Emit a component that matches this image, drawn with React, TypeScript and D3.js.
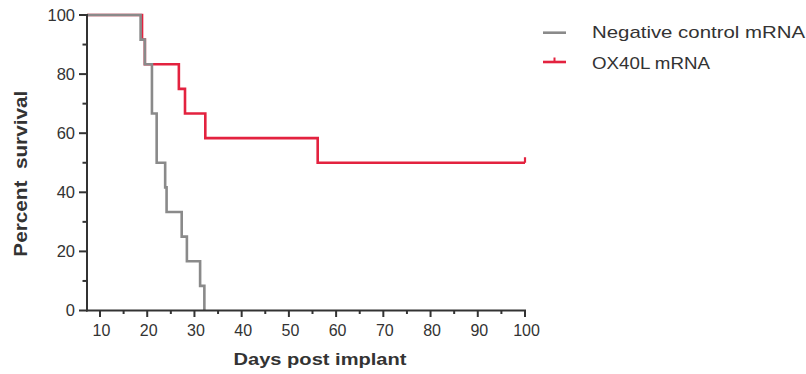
import React from "react";
import * as d3 from "d3";

const W = 806;
const H = 374;

// Kaplan–Meier data (day, percent survival)
const controlDays = [18.6, 19.5, 21.0, 22.0, 23.8, 24.1, 27.3, 28.4, 31.2, 32.1];
const controlSurv = [91.67, 83.33, 66.67, 50, 41.67, 33.33, 25, 16.67, 8.33, 0];
const ox40lDays = [18.9, 19.5, 26.7, 28.0, 32.3, 56.1];
const ox40lSurv = [91.67, 83.33, 75, 66.67, 58.33, 50];
const ox40lEnd = 100;

const xMajorTicks = [10, 20, 30, 40, 50, 60, 70, 80, 90, 100];
const xMinorTicks = [15, 25, 35, 45, 55, 65, 75, 85, 95];
const yMajorTicks = [0, 20, 40, 60, 80, 100];
const yMinorTicks = [10, 30, 50, 70, 90];

const seriesNames = ["Negative control mRNA", "OX40L mRNA"];
const GREY = "#8a8a8a";
const RED = "#e3223f";
const AXIS = "#333333";
const FONT = "'Liberation Sans', Arial, Helvetica, sans-serif";

export default function App() {
  const x = d3.scaleLinear().domain([10, 100]).range([100, 525]);
  const y = d3.scaleLinear().domain([0, 100]).range([310.5, 15]);
  const xStart = x.invert(87);

  const line = d3
    .line<[number, number]>()
    .x((d) => x(d[0]))
    .y((d) => y(d[1]))
    .curve(d3.curveStepAfter);

  const controlPts: [number, number][] = [[xStart, 100], ...controlDays.map((t, i) => [t, controlSurv[i]] as [number, number])];
  const oxPts: [number, number][] = [
    [xStart, 100],
    ...ox40lDays.map((t, i) => [t, ox40lSurv[i]] as [number, number]),
    [ox40lEnd, ox40lSurv[ox40lSurv.length - 1]],
  ];
  const lastOx = ox40lSurv[ox40lSurv.length - 1];

  const x0 = x(xStart);
  const yBase = y(0);

  return (
    <svg width={W} height={H} style={{ position: "absolute", left: 0, top: 0, background: "#fff" }}>
      <rect width={W} height={H} fill="#fff" />
      {/* curves */}
      <path d={line(oxPts) || ""} fill="none" stroke={RED} strokeWidth={2.6} />
      <line x1={x(ox40lEnd)} x2={x(ox40lEnd)} y1={y(lastOx)} y2={y(lastOx) - 5.5} stroke={RED} strokeWidth={2.2} />
      <path d={line(controlPts) || ""} fill="none" stroke={GREY} strokeWidth={2.6} />

      {/* y axis */}
      <line x1={x0} x2={x0} y1={y(100) - 1} y2={yBase + 1} stroke={AXIS} strokeWidth={2} />
      {yMajorTicks.map((t) => (
        <g key={"ym" + t}>
          <line x1={x0 - 8} x2={x0} y1={y(t)} y2={y(t)} stroke={AXIS} strokeWidth={2} />
          <text x={75} y={y(t)} dy="0.36em" textAnchor="end" fontSize={16.5} fill={AXIS} fontFamily={FONT}>
            {t}
          </text>
        </g>
      ))}
      {yMinorTicks.map((t) => (
        <line key={"yn" + t} x1={x0 - 4.5} x2={x0} y1={y(t)} y2={y(t)} stroke={AXIS} strokeWidth={2} />
      ))}

      {/* x axis */}
      <line x1={x0 - 1} x2={x(100) + 1} y1={yBase} y2={yBase} stroke={AXIS} strokeWidth={2} />
      {xMajorTicks.map((t) => (
        <g key={"xm" + t}>
          <line x1={x(t)} x2={x(t)} y1={yBase} y2={yBase + 6.5} stroke={AXIS} strokeWidth={2} />
          <text x={x(t) + 1.5} y={335.5} textAnchor="middle" fontSize={16} fill={AXIS} fontFamily={FONT}>
            {t}
          </text>
        </g>
      ))}
      {xMinorTicks.map((t) => (
        <line key={"xn" + t} x1={x(t)} x2={x(t)} y1={yBase} y2={yBase + 3.5} stroke={AXIS} strokeWidth={2} />
      ))}

      {/* axis titles */}
      <text
        x={320}
        y={364.5}
        textAnchor="middle"
        fontSize={16.5}
        fontWeight="bold"
        fill={AXIS}
        fontFamily={FONT}
        textLength={173}
        lengthAdjust="spacingAndGlyphs"
      >
        Days post implant
      </text>
      <text
        transform={`translate(26.5,173.7) rotate(-90)`}
        textAnchor="middle"
        fontSize={17.5}
        fontWeight="bold"
        fill={AXIS}
        fontFamily={FONT}
        textLength={166}
        lengthAdjust="spacingAndGlyphs"
      >
        {"Percent\u00a0 survival"}
      </text>

      {/* legend */}
      <line x1={543} x2={566} y1={32.7} y2={32.7} stroke={GREY} strokeWidth={2.6} />
      <text x={592} y={37.5} fontSize={17} fill={AXIS} fontFamily={FONT} textLength={213} lengthAdjust="spacingAndGlyphs">
        {seriesNames[0]}
      </text>
      <line x1={543} x2={566} y1={62} y2={62} stroke={RED} strokeWidth={2.6} />
      <line x1={554.5} x2={554.5} y1={62} y2={57.5} stroke={RED} strokeWidth={2} />
      <text x={592} y={69.3} fontSize={17} fill={AXIS} fontFamily={FONT} textLength={118} lengthAdjust="spacingAndGlyphs">
        {seriesNames[1]}
      </text>
    </svg>
  );
}
